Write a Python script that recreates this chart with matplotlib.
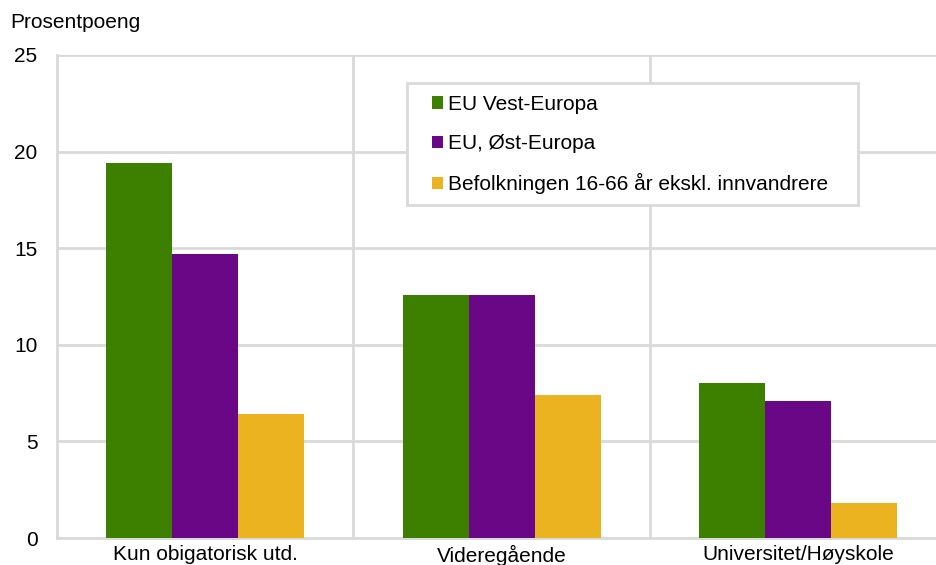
import matplotlib
matplotlib.use("Agg")
import matplotlib.pyplot as plt
from matplotlib.patches import Rectangle
import numpy as np

plt.rcParams['font.family'] = ['Liberation Sans', 'DejaVu Sans']

categories = ["Kun obigatorisk utd.", "Videregående", "Universitet/Høyskole"]
series_names = ["EU Vest-Europa", "EU, Øst-Europa", "Befolkningen 16-66 år ekskl. innvandrere"]
vest = [19.4, 12.6, 8.0]
ost = [14.7, 12.6, 7.1]
befolkning = [6.4, 7.4, 1.8]
colors = ["#3d8000", "#690786", "#ecb320"]

W, H = 936, 565
fig = plt.figure(figsize=(W / 100, H / 100), dpi=100)
ax = fig.add_axes([57/W, 1 - 538/H, 879/W, 483/H])

x = np.arange(len(categories))
w = 0.2226
for i, (vals, name) in enumerate(zip([vest, ost, befolkning], series_names)):
    ax.bar(x + (i - 1) * w, vals, w, color=colors[i], label=name, zorder=3)

ax.set_ylim(0, 25)
ax.set_xlim(-0.5, 2.465)
ax.set_yticks([0, 5, 10, 15, 20, 25])
ax.set_xticks(x)
ax.set_xticklabels(categories)
ax.tick_params(length=0, labelsize=15, colors="#000000")
ax.tick_params(axis='y', pad=14)
ax.tick_params(axis='x', pad=5)

grid_c = "#d9d9d9"
for yv in [5, 10, 15, 20, 25]:
    ax.axhline(yv, color=grid_c, lw=2, zorder=1)
for xv in [0.5, 1.5]:
    ax.axvline(xv, color=grid_c, lw=2, zorder=1)
for s in ["top", "right"]:
    ax.spines[s].set_visible(False)
ax.spines["left"].set_color(grid_c)
ax.spines["left"].set_linewidth(2)
ax.spines["bottom"].set_color(grid_c)
ax.spines["bottom"].set_linewidth(2)

# legend box drawn separately (wider side padding than matplotlib allows)
box = Rectangle((407/W, 1 - 205/H), 451/W, 122/H, transform=fig.transFigure,
                facecolor="white", edgecolor=grid_c, lw=2, zorder=5, clip_on=False)
ax.add_patch(box)
leg = ax.legend(loc="upper left", bbox_to_anchor=(432/W, 1 - 95/H),
                bbox_transform=fig.transFigure, fontsize=15, frameon=False,
                handlelength=0.55, handleheight=0.55, handletextpad=0.2,
                labelspacing=0.97, borderpad=0, borderaxespad=0)
leg.set_zorder(6)

fig.text(10/W, 1 - 23/H, "Prosentpoeng", fontsize=15, va="center", ha="left")

fig.savefig("out.png", dpi=100)
